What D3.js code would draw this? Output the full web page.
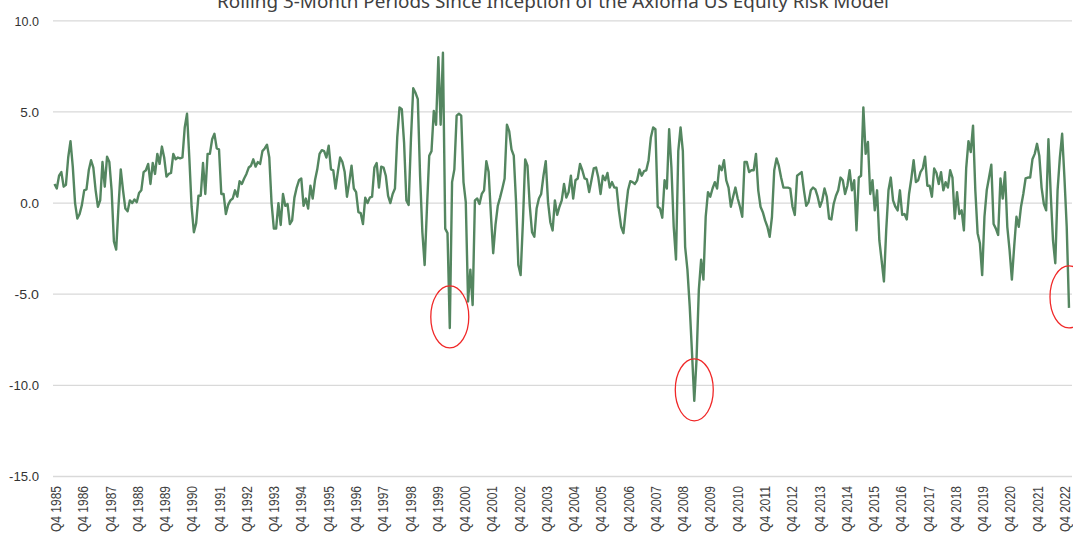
<!DOCTYPE html>
<html><head><meta charset="utf-8">
<script src="https://cdn.jsdelivr.net/npm/d3@7"></script>
<style>html,body{margin:0;padding:0;background:#fff;overflow:hidden}</style>
</head><body>
<svg id="chart" width="1073" height="537"></svg>
<script>
const chartTitle = "Rolling 3-Month Periods Since Inception of the Axioma US Equity Risk Model";
const yTicks = [-15, -10, -5, 0, 5, 10];
const xTickLabels = ["Q4 1985","Q4 1986","Q4 1987","Q4 1988","Q4 1989","Q4 1990","Q4 1991","Q4 1992","Q4 1993","Q4 1994","Q4 1995","Q4 1996","Q4 1997","Q4 1998","Q4 1999","Q4 2000","Q4 2001","Q4 2002","Q4 2003","Q4 2004","Q4 2005","Q4 2006","Q4 2007","Q4 2008","Q4 2009","Q4 2010","Q4 2011","Q4 2012","Q4 2013","Q4 2014","Q4 2015","Q4 2016","Q4 2017","Q4 2018","Q4 2019","Q4 2020","Q4 2021","Q4 2022"];
// monthly values, rolling 3-month periods
const values = [
1.05,0.8,1.5,1.7,0.9,1.0,2.5,3.4,2.0,0.0,
-0.85,-0.6,-0.1,0.7,0.75,1.8,2.35,1.95,0.7,-0.2,
0.15,2.25,0.9,2.55,2.25,0.7,-2.1,-2.55,-0.2,1.85,
0.7,-0.3,-0.45,0.15,0.0,0.2,0.05,0.55,0.7,1.7,
1.8,2.15,1.05,2.2,1.6,2.7,2.15,3.1,2.5,1.45,
1.6,1.65,2.7,2.4,2.5,2.45,2.5,4.15,4.9,2.5,
-0.2,-1.6,-1.1,0.4,0.4,2.2,0.5,2.7,2.7,3.5,
3.8,3.0,2.95,0.5,0.5,
-0.6,-0.1,0.15,0.25,0.7,0.35,1.2,1.05,1.35,1.6,
1.95,2.05,2.4,2.0,2.25,2.15,2.85,3.0,3.2,2.5,
0.0,-1.4,-1.4,0.0,-1.2,0.5,-0.15,-0.05,-1.15,-0.95,
0.3,0.85,1.25,1.35,-0.15,0.25,-0.3,0.95,0.25,1.25,
1.85,2.7,2.9,2.85,2.5,3.15,1.85,1.8,0.8,1.7,
2.5,2.25,1.7,0.35,1.15,2.05,0.8,0.6,-0.5,-0.55,
-1.15,0.3,0.0,0.3,0.35,1.95,2.2,0.85,2.0,1.95,
1.5,0.4,0.0,0.5,
0.8,3.6,5.25,5.15,3.3,0.15,-0.1,3.5,6.3,6.05,
5.7,1.5,-1.6,-3.4,-0.3,2.6,2.85,5.05,4.3,8.0,
4.3,8.25,-1.4,-1.65,-6.85,1.15,1.85,4.8,4.9,4.8,
1.15,0.05,-5.4,-3.65,-5.6,0.15,0.25,-0.05,0.5,0.7,
2.3,1.7,-0.65,-2.75,-1.2,-0.15,0.3,0.8,1.35,4.3,
3.95,2.95,2.6,0.05,-3.4,-3.95,-1.05,2.4,2.05,-0.15,
-1.6,-1.85,-0.3,0.25,0.5,1.5,2.3,0.05,-1.05,-1.5,
0.15,-0.65,-0.2,0.15,1.05,0.3,0.6,1.5,
0.25,1.25,1.35,2.15,1.8,1.35,1.3,0.6,1.25,1.9,
1.95,1.4,0.5,1.5,1.25,1.65,0.85,1.15,0.85,0.85,
-0.4,-1.3,-1.65,-0.4,0.7,1.2,1.15,1.05,1.25,1.85,
1.5,1.75,1.8,2.35,3.6,4.15,4.05,-0.2,-0.3,-0.8,
1.25,0.8,4.05,1.95,-1.3,-3.1,2.85,4.15,2.85,-2.4,
-3.65,-5.65,-8.2,-10.85,-8.55,-4.75,-3.1,-4.2,-0.75,0.6,
0.35,0.8,1.15,0.8,2.05,1.8,2.35,1.25,0.85,-0.2,
0.35,0.85,0.25,-0.2,-0.75,2.25,2.25,1.7,1.8,1.8,
2.7,0.7,-0.2,-0.5,-0.95,-1.3,-1.85,-0.75,1.8,2.45,
2.05,1.4,0.85,0.85,0.85,0.8,-0.2,-0.65,1.5,
1.6,1.7,0.7,-0.15,0.05,0.7,0.85,0.75,0.35,-0.2,
0.15,0.8,0.35,-0.85,-0.9,-0.05,0.4,0.7,1.4,1.25,
0.5,0.95,1.8,0.7,1.25,-1.5,1.4,1.5,5.25,2.7,
3.35,0.5,1.25,-0.4,0.7,-2.05,-3.15,-4.3,-1.5,0.7,
1.4,0.15,-0.2,-0.4,0.7,-0.65,-0.6,-0.9,0.5,1.35,
2.35,1.15,1.25,1.7,1.9,2.55,0.95,0.95,0.35,1.9,
1.65,1.05,1.7,0.7,1.15,0.85,1.8,1.4,-0.85,0.6,
-0.6,-0.4,-1.5,1.9,3.4,2.8,4.25,0.7,-1.65,-2.2,
-3.95,-0.75,0.7,1.4,2.1,-1.15,-1.4,-1.75,1.35,0.25,
1.7,-1.3,-2.6,-4.2,-2.4,-0.75,-1.3,-0.2,0.5,1.35,
1.4,1.4,2.4,2.7,3.25,2.6,0.85,-0.05,-0.4,3.5,
0.5,-2.05,-3.3,0.7,2.5,3.8,1.4,-1.3,-5.75
];
const circledPoints = [173, 280, 444];   // indices of the circled troughs

const svg = d3.select("#chart");
const gridLeft = 53, gridRight = 1072;
const x = d3.scaleLinear().domain([0, values.length - 1]).range([54.5, 1069]);
const y = d3.scaleLinear().domain([-15, 10]).range([476.5, 20.8]);
// category label axis (one "Q4" label per year)
const xl = d3.scalePoint().domain(xTickLabels).range([56, 1065]);
const labelFont = "Liberation Sans Narrow, Liberation Sans, Arial, sans-serif";

// gridlines
svg.append("g").selectAll("line").data(yTicks).join("line")
  .attr("x1", gridLeft).attr("x2", gridRight)
  .attr("y1", d => y(d)).attr("y2", d => y(d))
  .attr("stroke", "#d9d9d9").attr("stroke-width", 1.3);

// y labels
svg.append("g").selectAll("text").data(yTicks).join("text")
  .attr("x", 39).attr("y", d => y(d)).attr("dy", "0.35em")
  .attr("text-anchor", "end")
  .attr("font-family", labelFont)
  .attr("font-size", 13.5).attr("fill", "#333")
  .attr("textLength", d => d.toFixed(1).length * 5.6 + 2)
  .attr("lengthAdjust", "spacingAndGlyphs")
  .text(d => d.toFixed(1));

// x labels
svg.append("g").selectAll("text").data(xTickLabels).join("text")
  .attr("transform", d => `translate(${xl(d) + 5},486) rotate(-90)`)
  .attr("text-anchor", "end")
  .attr("font-family", labelFont)
  .attr("font-size", 14).attr("fill", "#404040")
  .attr("textLength", 46).attr("lengthAdjust", "spacingAndGlyphs")
  .text(d => d);

// line
const line = d3.line().x((d, i) => x(i)).y(d => y(d));
svg.append("path").datum(values)
  .attr("d", line).attr("fill", "none")
  .attr("stroke", "#548660").attr("stroke-width", 2.4)
  .attr("stroke-linejoin", "round");

// circles around troughs
svg.append("g").selectAll("ellipse").data(circledPoints).join("ellipse")
  .attr("cx", i => x(i)).attr("cy", i => y(values[i]) - 11)
  .attr("rx", 19).attr("ry", 31)
  .attr("fill", "none").attr("stroke", "#f02828").attr("stroke-width", 1.3);

// title (partly cut off at top, as in the original)
svg.append("text")
  .attr("x", 553).attr("y", 8).attr("text-anchor", "middle")
  .attr("font-family", "'Noto Sans',sans-serif").attr("font-size", 18)
  .attr("fill", "#404040")
  .attr("textLength", 672).attr("lengthAdjust", "spacingAndGlyphs")
  .text(chartTitle);
</script>
</body></html>
